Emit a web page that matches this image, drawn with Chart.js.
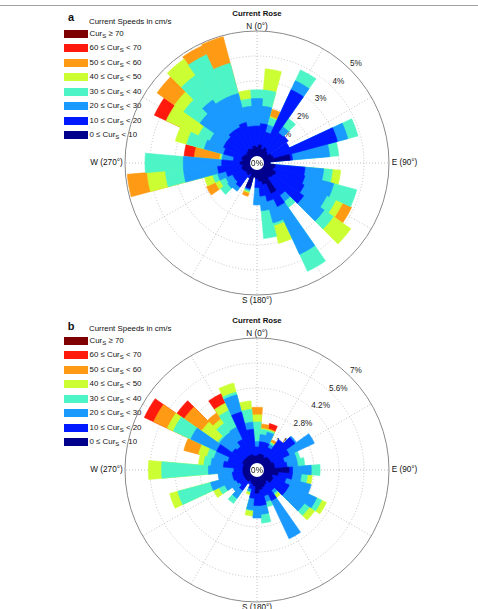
<!DOCTYPE html>
<html>
<head>
<meta charset="utf-8">
<script src="https://cdn.jsdelivr.net/npm/chart.js@4.4.1/dist/chart.umd.min.js"></script>
<style>
  html, body { margin: 0; padding: 0; background: #fff; }
  #page { position: relative; width: 478px; height: 609px; overflow: hidden; font-family: "Liberation Sans", Arial, sans-serif; color: #111; }
  .rule { position: absolute; left: 0; top: 5px; width: 478px; height: 1px; background: #a0a0a0; }
  .t { position: absolute; white-space: nowrap; line-height: 1; font-size: 8.2px; }
  .c { transform: translate(-50%, -50%); }
  .l { transform: translateY(-50%); }
  .r { transform: translate(-100%, -50%); }
  .letter { font-size: 11px; font-weight: bold; }
  .title { font-size: 7.8px; font-weight: bold; }
  .leg { font-size: 7.9px; }
  .leg sub { font-size: 6px; vertical-align: -2px; line-height: 0; }
  .pct { z-index: 1; color: #222; }
  .sw { position: absolute; width: 24px; height: 8px; }
  canvas { position: absolute; z-index: 2; }
</style>
</head>
<body>
<div id="page"><div class="rule"></div></div>
<script>
// direction bins (degrees, clockwise from north)
const directions = ['0','10','20','30','40','50','60','70','80','90','100','110','120','130','140','150','160','170',
                    '180','190','200','210','220','230','240','250','260','270','280','290','300','310','320','330','340','350'];
const speedLimits = [0, 10, 20, 30, 40, 50, 60, 70];
const speedColors = ['#00008c', '#0019ff', '#1a99ff', '#4df5c6', '#ccff33', '#ff9a14', '#ff1a0d', '#7f0000'];
const aRingTicks = [0, 1, 2, 3, 4, 5];
const bRingTicks = [0, 1.4, 2.8, 4.2, 5.6, 7];

// panel a: frequency (%) per direction for each speed class
const aSpd0to10  = [0.35,0.45,0.3,0.4,0.3,0.25,0.35,0.4,1.05,0.25,0.45,0.4,0.55,0.5,0.45,1.05,0.6,0.45,0.35,0.3,0.75,0.2,0.3,0.25,0.3,0.35,0.3,0.4,0.3,0.35,0.3,0.25,0.3,0.35,0.3,0.4];
const aSpd10to20 = [0.85,0.85,0.7,2.55,0.9,1.0,0.8,2.65,0.1,0,1.2,1.3,1.25,1.5,0.85,0.59,0.7,0.6,0.35,0,0.05,0.2,0.6,0.55,0.5,0.65,1.0,0.73,0.37,0.75,0.9,0.95,1.0,0.95,1.1,0.8];
const aSpd20to30 = [1.1,0.7,0.3,0.4,0.3,0,0,0.43,1.49,0,0.75,1.2,1.0,1.0,0.3,2.11,0.9,0.59,0.7,0,0.05,0,0.2,0.35,0.3,0.35,1.37,1.54,0.45,0.8,0.6,1.3,1.5,1.3,1.2,0.8];
const aSpd30to40 = [0.35,0.65,0.3,0.48,0.4,0,0,0.42,0.36,0,0.35,0.95,0.4,0.45,0.3,0.75,0.1,1.11,0,0,0.05,0,0,0.35,0.25,0.2,0.73,1.53,0.05,0.73,0.5,0.8,1.2,1.9,1.25,0.3];
const aSpd40to50 = [0,0.85,0.05,0,0,0,0,0,0,0,0.33,0,0.3,0.85,0,0,0.75,0,0,0,0.05,0,0,0,0.2,0.35,0.73,0,0.05,0.47,1.43,0.45,0.8,0,0,0.35];
const aSpd50to60 = [0,0,0.3,0,0,0,0,0,0,0,0,0,0.4,0,0,0,0,0,0,0,0.15,0,0,0,0.4,0,0.8,0,1.02,0,0,0.85,0,0.4,1.1,0];
const aSpd60to70 = [0,0,0,0,0,0,0,0,0,0,0,0,0,0,0,0,0,0,0,0,0,0,0,0,0,0,0,0,0.41,0,0.52,0,0,0,0,0];
const aSpd70up   = [0,0,0,0,0,0,0,0,0,0,0,0,0,0,0,0,0,0,0,0,0,0,0,0,0,0,0,0,0,0,0,0,0,0,0,0];

// panel b
const bSpd0to10  = [0.4,0.5,0.5,0.4,0.5,0.5,0.5,0.6,0.6,1.4,0.8,0.5,0.6,0.6,0.4,0.5,0.6,0.7,0.9,0.5,0.4,0.3,0.4,0.4,0.4,0.4,0.4,0.4,0.4,0.4,0.5,0.5,0.5,0.5,0.5,0.4];
const bSpd10to20 = [0.5,0.7,0.7,0.6,1.2,1.7,1.1,0.6,0.7,0.2,0.8,0.8,1.0,1.0,0.6,1.0,0.5,0.9,0.7,0.7,0.3,0.2,0.6,0.4,0.5,0.6,0.6,0.5,1.1,0.9,1.6,0.8,0.7,1.0,2.47,1.5];
const bSpd20to30 = [0.3,0.4,0.6,0.2,0,0.1,1.55,0.7,0.6,1.05,0.5,1.45,1.7,1.25,0.2,2.36,0.35,0.5,0.7,0.65,0.15,0,0.55,0.5,0.7,1.3,0.8,1.43,0.7,0.8,1.6,0.9,1.0,0.76,1.0,0.4];
const bSpd30to40 = [1.1,0.3,0.1,0.1,0,0,0,0.2,0.4,0.49,0.35,0,0.3,0.35,0.1,0,0.3,0.5,0,0.05,0.05,0,0.35,0,0.35,1.9,0,2.62,0.4,0.4,1.08,0.1,0.6,1.04,0.15,0.72];
const bSpd40to50 = [0.4,0.05,0.05,0.05,0,0,0,0,0,0,0.27,0,0.3,0.37,0.2,0,0,0,0,0.3,0.15,0,0,0,0.35,0.47,0,0.74,0.3,0.5,0.37,1.1,0.3,0.45,0.53,0.47];
const bSpd50to60 = [0.42,0.25,0.05,0.15,0,0,0,0,0,0,0,0,0,0,0,0,0,0,0,0,0,0,0,0,0,0,0,0,0,0.85,0.85,1.2,0.43,0,0,0];
const bSpd60to70 = [0,0,0.3,0,0,0,0,0,0,0,0,0,0,0,0,0,0,0,0,0,0,0,0,0,0,0,0,0,0,0,0.57,0.5,0,0.58,0,0];
const bSpd70up   = [0,0,0,0,0,0,0,0,0,0,0,0,0,0,0,0,0,0,0,0,0,0,0,0,0,0,0,0,0,0,0,0,0,0,0,0];

const page = document.getElementById('page');

function addText(html, x, y, cls) {
  const d = document.createElement('div');
  d.className = 't ' + cls;
  d.innerHTML = html;
  d.style.left = x + 'px';
  d.style.top = y + 'px';
  page.appendChild(d);
  return d;
}

function classLabel(i) {
  const lo = speedLimits[i], hi = speedLimits[i + 1];
  if (hi === undefined) return 'Cur<sub>S</sub> \u2265 ' + lo;
  return lo + ' \u2264 Cur<sub>S</sub> &lt; ' + hi;
}

// spokes under the bars, white 0% hole over them
const roseDecor = {
  id: 'roseDecor',
  beforeDatasetsDraw(chart) {
    const s = chart.scales.r, ctx = chart.ctx;
    const r0 = s.getDistanceFromCenterForValue(0), r1 = s.drawingArea;
    ctx.save();
    ctx.strokeStyle = '#c2c2c2';
    ctx.lineWidth = 1;
    ctx.setLineDash([1, 2]);
    for (let deg = 0; deg < 360; deg += 30) {
      const a = (deg - 90) * Math.PI / 180;
      ctx.beginPath();
      ctx.moveTo(s.xCenter + Math.cos(a) * r0, s.yCenter + Math.sin(a) * r0);
      ctx.lineTo(s.xCenter + Math.cos(a) * r1, s.yCenter + Math.sin(a) * r1);
      ctx.stroke();
    }
    ctx.restore();
  },
  afterDatasetsDraw(chart) {
    const s = chart.scales.r, ctx = chart.ctx;
    const r0 = s.getDistanceFromCenterForValue(0);
    ctx.save();
    ctx.beginPath();
    ctx.arc(s.xCenter, s.yCenter, r0, 0, Math.PI * 2);
    ctx.fillStyle = '#fff';
    ctx.fill();
    ctx.fillStyle = '#111';
    ctx.font = '8.2px "Liberation Sans", Arial, sans-serif';
    ctx.textAlign = 'center';
    ctx.textBaseline = 'middle';
    ctx.fillText('0%', s.xCenter, s.yCenter + 0.5);
    ctx.restore();
  }
};

function drawRose(cfg) {
  const R = 132, pad = 2;
  const cv = document.createElement('canvas');
  cv.width = cv.height = 2 * (R + pad);
  cv.style.left = (cfg.cx - R - pad) + 'px';
  cv.style.top = (cfg.cy - R - pad) + 'px';
  page.appendChild(cv);

  // stack the classes: each layer is drawn from the centre out to its cumulative value
  let run = directions.map(() => 0);
  const datasets = cfg.classes.map((arr, k) => {
    run = run.map((v, i) => v + arr[i]);
    return {
      label: 'class ' + k,
      data: run.map((v, i) => arr[i] > 0 ? v : 0),
      backgroundColor: speedColors[k],
      borderColor: speedColors[k],
      borderWidth: 0.6,
      order: k
    };
  });

  const ticks = cfg.ticks;
  const last = ticks.length - 1;
  const step = ticks[1] - ticks[0];
  const chart = new Chart(cv.getContext('2d'), {
    type: 'polarArea',
    data: { labels: directions, datasets: datasets },
    options: {
      responsive: false,
      animation: false,
      events: [],
      layout: { padding: pad },
      plugins: { legend: { display: false }, tooltip: { enabled: false } },
      scales: {
        r: {
          startAngle: -5,
          min: -0.28 * step,
          max: ticks[last],
          afterBuildTicks: (scale) => { scale.ticks = ticks.map(v => ({ value: v })); },
          ticks: { display: false },
          angleLines: { display: false },
          pointLabels: { display: false },
          grid: {
            circular: true,
            lineWidth: 1,
            color: (c) => c.index === 0 ? 'rgba(0,0,0,0)' : (c.index === last ? '#8a8a8a' : '#c2c2c2')
          },
          border: { dash: (c) => c.index === last ? [] : [1, 2] }
        }
      }
    },
    plugins: [roseDecor]
  });

  const s = chart.scales.r;
  const ox = cfg.cx - R - pad, oy = cfg.cy - R - pad;
  const cx = ox + s.xCenter, cy = oy + s.yCenter;

  // ring labels along the 45 degree line, under the canvas
  ticks.forEach((v, i) => {
    if (i === 0) return;
    const d = s.getDistanceFromCenterForValue(v) + 8;
    addText(v + '%', cx + d * Math.SQRT1_2, cy - d * Math.SQRT1_2, 'c pct');
  });

  addText('N (0\u00b0)', cx, cy - R - 4.3, 'c');
  addText('S (180\u00b0)', cx, cy + R + 6, 'c');
  addText('E (90\u00b0)', cx + R + 2.7, cy, 'l');
  addText('W (270\u00b0)', cx - R - 2.3, cy, 'r');
  addText('Current Rose', cx, cfg.titleY, 'c title');

  // legend
  addText(cfg.letter, 71, cfg.letterY, 'c letter');
  addText('Current Speeds in cm/s', 89, cfg.legTop - 12, 'l leg');
  for (let k = speedColors.length - 1, row = 0; k >= 0; k--, row++) {
    const y = cfg.legTop + row * 14.5;
    const sw = document.createElement('div');
    sw.className = 'sw';
    sw.style.left = '63.5px';
    sw.style.top = (y - 4) + 'px';
    sw.style.background = speedColors[k];
    page.appendChild(sw);
    addText(classLabel(k), 89.5, y, 'l leg');
  }
}

drawRose({
  cx: 257, cy: 163, ticks: aRingTicks, letter: 'a', letterY: 17, titleY: 14.3, legTop: 33.7,
  classes: [aSpd0to10, aSpd10to20, aSpd20to30, aSpd30to40, aSpd40to50, aSpd50to60, aSpd60to70, aSpd70up]
});
drawRose({
  cx: 257, cy: 470, ticks: bRingTicks, letter: 'b', letterY: 326, titleY: 320.7, legTop: 340.5,
  classes: [bSpd0to10, bSpd10to20, bSpd20to30, bSpd30to40, bSpd40to50, bSpd50to60, bSpd60to70, bSpd70up]
});
</script>
</body>
</html>
